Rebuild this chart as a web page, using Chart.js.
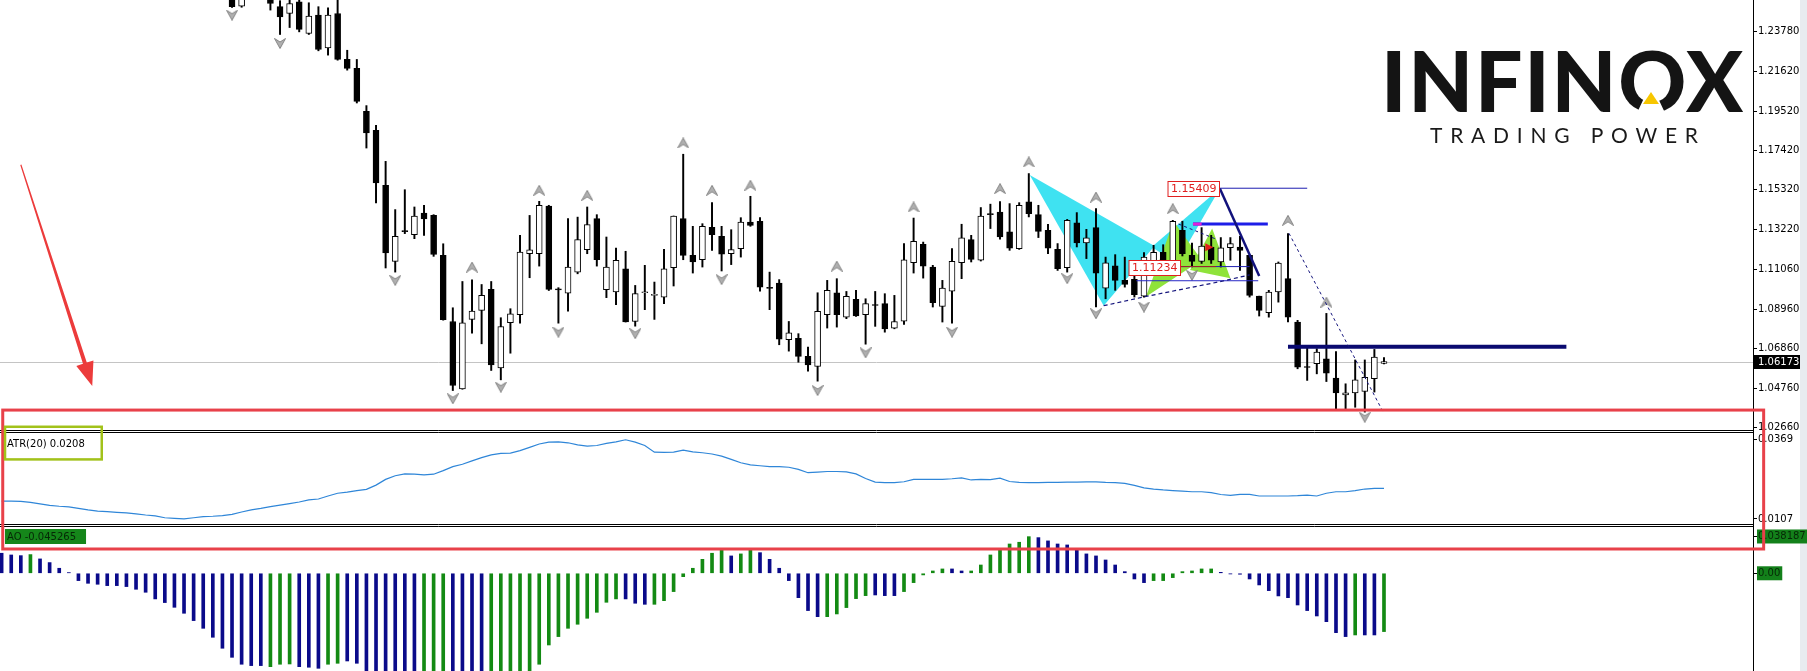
<!DOCTYPE html>
<html>
<head>
<meta charset="utf-8">
<title>EURUSD H4 - ATR / AO</title>
<script src="https://cdn.jsdelivr.net/npm/chart.js@4.4.1/dist/chart.umd.min.js"></script>
<style>
  html, body { margin: 0; padding: 0; background: #fff; }
  #wrap { position: relative; width: 1807px; height: 671px; overflow: hidden; background: #fff; }
  #chart { position: absolute; left: 0; top: 0; }
  .strip { position: absolute; right: 0; top: 0; width: 7px; height: 671px; background: #e8ebef; }
  .brand { position: absolute; left: 1381px; top: 38px; font-family: Lato, sans-serif; font-weight: 900;
           font-size: 84px; line-height: 84px; color: #141414; white-space: nowrap; }
  .brand .o { position: relative; }
  .tag { position: absolute; left: 1430px; top: 124px; font-family: Lato, sans-serif; font-weight: 400;
         font-size: 21px; line-height: 21px; color: #1a1a1a; white-space: nowrap; }
  .notch { position: absolute; width: 0; height: 0; border-left: 14px solid transparent;
           border-right: 14px solid transparent; border-bottom: 30px solid #fff; }
  .tri { position: absolute; width: 0; height: 0; border-left: 8px solid transparent;
         border-right: 8px solid transparent; border-bottom: 12px solid #f7c600; }
</style>
</head>
<body>
<div id="wrap">
  <div class="strip"></div>
  <canvas id="chart" width="1807" height="671"></canvas>
  <div class="brand" id="brand">INFIN<span class="o" id="brandO">O</span>X</div>
  <div class="tag" id="tag">TRADING POWER</div>
  <div class="notch" id="notch"></div>
  <div class="tri" id="tri"></div>
</div>
<script>
// ---- data ----
// bars 0..23 are above the visible price range, first drawn candle is bar 24
const firstBar = 24;

const opens = [
  1.2600, 1.2511, 1.2580, 1.2620, 1.2580, 1.2508, 1.2472, 1.2534, 1.2365, 1.2463,
  1.2289, 1.2472, 1.2227, 1.2179, 1.1951, 1.1850, 1.1556, 1.1151, 1.1313, 1.1293,
  1.1409, 1.1396, 1.1183, 1.0831, 1.0472, 1.0842, 1.0890, 1.1002, 1.0584, 1.0824,
  1.0867, 1.1192, 1.1192, 1.1446, 1.1001, 1.0982, 1.1094, 1.1213, 1.1379, 1.1000,
  1.0988, 1.1112, 1.0831, 1.0984, 1.0970, 1.0961, 1.1118, 1.1379, 1.1183, 1.1160,
  1.1333, 1.1285, 1.1192, 1.1219, 1.1361, 1.1365, 1.1009, 1.1036, 1.0734, 1.0741,
  1.0645, 1.0591, 1.0867, 1.0984, 1.0854, 1.0949, 1.0867, 1.0918, 1.0926, 1.0796,
  1.0833, 1.1144, 1.1242, 1.1121, 1.0911, 1.0993, 1.1144, 1.1267, 1.1157, 1.1402,
  1.1414, 1.1308, 1.1219, 1.1468, 1.1400, 1.1317, 1.1215, 1.1117, 1.1356, 1.1249,
  1.1331, 1.1009, 1.1128, 1.1050, 1.1056, 1.0966, 1.1120, 1.1200, 1.1121, 1.1317,
  1.1183, 1.1151, 1.1228, 1.1148, 1.1224, 1.1228, 1.1183, 1.0966, 1.0878, 1.0988,
  1.1059, 1.0828, 1.0590, 1.0606, 1.0632, 1.0529, 1.0440, 1.0451, 1.0458, 1.0526, 1.0607
];
const highs = [
  1.2630, 1.2600, 1.2650, 1.2660, 1.2600, 1.2540, 1.2545, 1.2560, 1.2529, 1.2508,
  1.2502, 1.2560, 1.2276, 1.2227, 1.1981, 1.1876, 1.1684, 1.1427, 1.1533, 1.1441,
  1.1450, 1.1400, 1.1245, 1.0904, 1.1044, 1.1053, 1.1028, 1.1044, 1.0851, 1.0899,
  1.1290, 1.1396, 1.1471, 1.1450, 1.1011, 1.1379, 1.1387, 1.1441, 1.1400, 1.1281,
  1.1222, 1.1205, 1.1023, 1.1130, 1.1041, 1.1215, 1.1393, 1.1722, 1.1338, 1.1352,
  1.1464, 1.1338, 1.1320, 1.1384, 1.1498, 1.1384, 1.1094, 1.1054, 1.0831, 1.0766,
  1.0694, 1.0984, 1.1050, 1.1059, 1.0991, 1.0997, 1.0952, 1.0991, 1.0979, 1.0970,
  1.1246, 1.1382, 1.1254, 1.1130, 1.1050, 1.1219, 1.1349, 1.1290, 1.1438, 1.1456,
  1.1470, 1.1459, 1.1464, 1.1619, 1.1450, 1.1349, 1.1246, 1.1375, 1.1411, 1.1322,
  1.1432, 1.1174, 1.1187, 1.1174, 1.1121, 1.1198, 1.1237, 1.1240, 1.1370, 1.1365,
  1.1249, 1.1331, 1.1290, 1.1278, 1.1278, 1.1285, 1.1183, 1.0966, 1.0997, 1.1148,
  1.1299, 1.0837, 1.0694, 1.0686, 1.0874, 1.0671, 1.0499, 1.0626, 1.0626, 1.0682, 1.0638
];
const lows = [
  1.2504, 1.2505, 1.2560, 1.2570, 1.2490, 1.2360, 1.2397, 1.2374, 1.2360, 1.2273,
  1.2250, 1.2223, 1.2170, 1.1995, 1.1755, 1.1462, 1.1116, 1.1094, 1.1299, 1.1272,
  1.1290, 1.1178, 1.0838, 1.0463, 1.0470, 1.0769, 1.0712, 1.0570, 1.0520, 1.0662,
  1.0822, 1.1064, 1.1126, 1.0996, 1.0822, 1.0886, 1.1085, 1.1192, 1.1126, 1.0958,
  1.0920, 1.0828, 1.0806, 1.0894, 1.0842, 1.0926, 1.1020, 1.1160, 1.1089, 1.1121,
  1.1210, 1.1100, 1.1134, 1.1174, 1.1338, 1.0993, 1.0894, 1.0707, 1.0673, 1.0614,
  1.0566, 1.0513, 1.0796, 1.0801, 1.0846, 1.0858, 1.0710, 1.0805, 1.0774, 1.0792,
  1.0815, 1.1089, 1.1062, 1.0908, 1.0828, 1.0822, 1.1059, 1.1148, 1.1153, 1.1326,
  1.1270, 1.1210, 1.1215, 1.1388, 1.1278, 1.1192, 1.1103, 1.1094, 1.1228, 1.1166,
  1.0908, 1.0952, 1.0997, 1.1014, 1.0961, 1.0961, 1.1090, 1.1110, 1.1110, 1.1180,
  1.1121, 1.1140, 1.1140, 1.1121, 1.1157, 1.1103, 1.0961, 1.0860, 1.0854, 1.0934,
  1.0828, 1.0579, 1.0517, 1.0552, 1.0511, 1.0357, 1.0357, 1.0374, 1.0348, 1.0455, 1.0605
];
const closes = [
  1.2508, 1.2570, 1.2620, 1.2590, 1.2525, 1.2454, 1.2525, 1.2387, 1.2458, 1.2280,
  1.2463, 1.2227, 1.2179, 1.2004, 1.1835, 1.1569, 1.1196, 1.1284, 1.1310, 1.1393,
  1.1377, 1.1188, 1.0840, 1.0490, 1.0824, 1.0886, 1.0970, 1.0600, 1.0804, 1.0872,
  1.1201, 1.1213, 1.1450, 1.1002, 1.0999, 1.1121, 1.1267, 1.1347, 1.1160, 1.1121,
  1.1157, 1.0828, 1.0979, 1.0986, 1.0972, 1.1112, 1.1393, 1.1183, 1.1148, 1.1338,
  1.1294, 1.1190, 1.1214, 1.1361, 1.1343, 1.1014, 1.1007, 1.0737, 1.0771, 1.0645,
  1.0600, 1.0885, 1.0997, 1.0867, 1.0965, 1.0860, 1.0926, 1.0916, 1.0792, 1.0831,
  1.1160, 1.1258, 1.1126, 1.0931, 1.1009, 1.1151, 1.1276, 1.1162, 1.1393, 1.1400,
  1.1281, 1.1222, 1.1450, 1.1406, 1.1311, 1.1222, 1.1112, 1.1370, 1.1249, 1.1276,
  1.1089, 1.1144, 1.1050, 1.1029, 1.0974, 1.1174, 1.1200, 1.1140, 1.1365, 1.1192,
  1.1151, 1.1233, 1.1157, 1.1224, 1.1246, 1.1210, 1.0970, 1.0890, 1.0988, 1.1142,
  1.0854, 1.0588, 1.0586, 1.0668, 1.0556, 1.0451, 1.0451, 1.0520, 1.0534, 1.0641, 1.06173
];
const lastPrice = 1.06173;

// fractal arrows: [bar, price]
const fractalsUp = [
  [49, 1.1121], [56, 1.1530], [61, 1.1503], [71, 1.1782], [74, 1.1530], [78, 1.1557],
  [87, 1.1126], [95, 1.1441], [104, 1.1539], [107, 1.1681], [114, 1.1494], [122, 1.1432],
  [134, 1.1370], [138, 1.0934]
];
const fractalsDown = [
  [24, 1.2463], [29, 1.2312], [41, 1.1050], [47, 1.0419], [52, 1.0481], [58, 1.0774],
  [66, 1.0766], [75, 1.1054], [85, 1.0463], [90, 1.0664], [99, 1.0774], [111, 1.1059],
  [114, 1.0872], [119, 1.0908], [124, 1.1077], [142, 1.0321]
];

// ATR(20), one value per bar 0..144
const atr = [
  0.0166, 0.0166, 0.0165, 0.0162, 0.0157, 0.0152, 0.0149, 0.0147, 0.0142, 0.0137,
  0.0133, 0.0131, 0.0129, 0.0127, 0.0124, 0.0120, 0.0117, 0.0111, 0.0109, 0.0107,
  0.0111, 0.0115, 0.0116, 0.0118, 0.0122, 0.0130, 0.0137, 0.0142, 0.0148, 0.0153,
  0.0158, 0.0163, 0.0170, 0.0173, 0.0183, 0.0192, 0.0196, 0.0201, 0.0205, 0.0219,
  0.0238, 0.0250, 0.0256, 0.0255, 0.0253, 0.0255, 0.0267, 0.0280, 0.0288, 0.0299,
  0.0310, 0.0319, 0.0324, 0.0325, 0.0333, 0.0344, 0.0355, 0.0361, 0.0362, 0.0359,
  0.0352, 0.0348, 0.0350, 0.0357, 0.0362, 0.0369, 0.0361, 0.0350, 0.0328, 0.0327,
  0.0328, 0.0335, 0.0329, 0.0326, 0.0322, 0.0315, 0.0304, 0.0293, 0.0286, 0.0283,
  0.0280, 0.0280, 0.0278, 0.0271, 0.0260, 0.0262, 0.0264, 0.0264, 0.0263, 0.0256,
  0.0241, 0.0229, 0.0227, 0.0227, 0.0230, 0.0238, 0.0238, 0.0238, 0.0238, 0.0240,
  0.0243, 0.0236, 0.0238, 0.0237, 0.0242, 0.0231, 0.0228, 0.0227, 0.0227, 0.0228,
  0.0228, 0.0229, 0.0229, 0.0230, 0.0230, 0.0228, 0.0227, 0.0225, 0.0218, 0.0210,
  0.0206, 0.0203, 0.0201, 0.0199, 0.0197, 0.0197, 0.0194, 0.0188, 0.0185, 0.0188,
  0.0188, 0.0183, 0.0183, 0.0183, 0.0183, 0.0184, 0.0186, 0.0183, 0.0192, 0.0197,
  0.0197, 0.0201, 0.0206, 0.0208, 0.0208
];

// Awesome Oscillator, one value per bar 0..144 (38..55 run below the window)
const ao = [
  0.0208, 0.0190, 0.0183, 0.0194, 0.0149, 0.0111, 0.0052, 0.0007, -0.0076, -0.0104,
  -0.0114, -0.0128, -0.0128, -0.0138, -0.0166, -0.0197, -0.0266, -0.0304, -0.0353, -0.0415,
  -0.0491, -0.0571, -0.0664, -0.0778, -0.0872, -0.0944, -0.0958, -0.0958, -0.0969, -0.0944,
  -0.0941, -0.0969, -0.0975, -0.0986, -0.0944, -0.0934, -0.0910, -0.0934, -0.1040, -0.1070,
  -0.1090, -0.1100, -0.1110, -0.1120, -0.1100, -0.1080, -0.1070, -0.1080, -0.1090, -0.1100,
  -0.1110, -0.1090, -0.1070, -0.1050, -0.1040, -0.1020, -0.0944, -0.0744, -0.0657, -0.0571,
  -0.0529, -0.0467, -0.0405, -0.0301, -0.0266, -0.0266, -0.0311, -0.0322, -0.0322, -0.0284,
  -0.0190, -0.0035, 0.0052, 0.0145, 0.0208, 0.0242, 0.0180, 0.0201, 0.0242, 0.0214,
  0.0145, 0.0052, -0.0076, -0.0253, -0.0387, -0.0450, -0.0450, -0.0422, -0.0356, -0.0263,
  -0.0232, -0.0225, -0.0232, -0.0232, -0.0190, -0.0097, -0.0017, 0.0024, 0.0045, 0.0045,
  0.0024, 0.0024, 0.0086, 0.0190, 0.0242, 0.0304, 0.0322, 0.0380, 0.0370, 0.0336,
  0.0304, 0.0294, 0.0249, 0.0201, 0.0180, 0.0138, 0.0086, 0.0017, -0.0059, -0.0097,
  -0.0076, -0.0076, -0.0045, 0.0017, 0.0024, 0.0045, 0.0045, 0.0010, -0.0007, -0.0010,
  -0.0059, -0.0121, -0.0180, -0.0235, -0.0253, -0.0329, -0.0387, -0.0443, -0.0502, -0.0616,
  -0.0657, -0.0640, -0.0640, -0.0640, -0.0605
];
// g = rising (green bar), b = falling (blue bar)
const aoTrend = ('bbbgbbbb' + 'bbbbbbbbbbbbbbbbbbbb' + 'gggbbbgg' + 'bbbbbbbb' + 'gggbbbb' +
  'gggggggggggggg' + 'bbb' + 'gggggggg' + 'bgg' + 'bbbbbbb' + 'gggggbbb' + 'gggggbb' +
  'ggggggg' + 'bbbbbbbbbbbb' + 'ggggggg' + 'bbbbbbbbbbbbbb' + 'gbbg').split('');

const priceTicks = [1.2378, 1.2162, 1.1952, 1.1742, 1.1532, 1.1322, 1.1106, 1.0896, 1.0686, 1.0476, 1.0266];
const atrTicks = [0.0369, 0.0107];
const aoTicks = [0.038187, 0];
const atrLast = 0.0208;
const aoLast = -0.045265;

// harmonic pattern drawn on the chart: triangles as [bar, price]
const cyanPattern = [
  [[107.1, 1.1611], [114.8, 1.0915], [120.1, 1.1233]],
  [[119.8, 1.1228], [126.9, 1.1540], [122.4, 1.1141]]
];
const greenPattern = [
  [[119.2, 1.0963], [122.1, 1.1363], [125.0, 1.1158]],
  [[123.8, 1.1105], [126.1, 1.1327], [128.0, 1.1061]]
];
const levelHigh = [[126.9, 1.15409], [136.0, 1.15409]];
const legCD = [[126.9, 1.1540], [131.0, 1.1073]];
const levelMid = [[124.1, 1.1350], [131.9, 1.1350]];
const levelLow = [[122.8, 1.11234], [130.0, 1.11234]];
const levelBase = [[118.2, 1.1048], [130.9, 1.1048]];
const resistance = [[134.0, 1.0697], [163.0, 1.0697]];
const dashedLows = [[114.8, 1.0915], [119.1, 1.0963], [126.9, 1.1043], [130.0, 1.1079]];
const dashedTop = [[122.6, 1.1350], [126.5, 1.1270]];
const dashedDrop = [[134.1, 1.1301], [143.9, 1.0350]];
const marker = [125.7, 1.1226];
// markup on the screenshot
const bigArrow = [[2.0, 1.1666], [9.44, 1.0487]];
const redBox = { left: 0.115, right: 183.55, top: 1.0359, bottom: 0.0252 };   // top on price axis, bottom on AO axis
const greenBox = { left: 0.354, right: 10.43, top: 1.0270, bottom: 0.0304 };  // top on price axis, bottom on ATR axis

// ---- drawing ----
const axisFont = { family: '"DejaVu Sans", sans-serif', size: 10 };
const AXIS_W = 54;

function arrowImg(up) {
  const c = document.createElement('canvas');
  c.width = 12; c.height = 11;
  const g = c.getContext('2d');
  g.beginPath();
  if (up) { g.moveTo(6, 0.5); g.lineTo(11.5, 10.5); g.lineTo(6, 7); g.lineTo(0.5, 10.5); }
  else { g.moveTo(6, 10.5); g.lineTo(11.5, 0.5); g.lineTo(6, 4); g.lineTo(0.5, 0.5); }
  g.closePath();
  g.fillStyle = '#b0b0b0'; g.fill();
  g.strokeStyle = '#858585'; g.lineWidth = 1; g.stroke();
  return c;
}

const overlay = {
  id: 'overlay',
  beforeDatasetsDraw(chart) {
    const { ctx, chartArea, scales } = chart;
    const X = v => scales.x.getPixelForValue(v);
    const Y = v => scales.y.getPixelForValue(v);
    ctx.save();
    const yb = Math.round(Y(lastPrice)) + 0.5;
    ctx.strokeStyle = '#c4c4c4'; ctx.lineWidth = 1;
    ctx.beginPath(); ctx.moveTo(chartArea.left, yb); ctx.lineTo(chartArea.right, yb); ctx.stroke();
    const poly = (pts, color) => {
      ctx.beginPath();
      pts.forEach(([i, p], k) => k ? ctx.lineTo(X(i), Y(p)) : ctx.moveTo(X(i), Y(p)));
      ctx.closePath();
      ctx.fillStyle = color; ctx.fill();
    };
    cyanPattern.forEach(t => poly(t, '#3fe2f1'));
    greenPattern.forEach(t => poly(t, '#8fe33a'));
    ctx.restore();
  },
  afterDatasetsDraw(chart) {
    const { ctx, chartArea, scales } = chart;
    const X = v => scales.x.getPixelForValue(v);
    const Y = v => scales.y.getPixelForValue(v);
    ctx.save();
    const line = (pts, color, w, dash) => {
      ctx.beginPath();
      pts.forEach(([i, p], k) => k ? ctx.lineTo(X(i), Y(p)) : ctx.moveTo(X(i), Y(p)));
      ctx.strokeStyle = color; ctx.lineWidth = w; ctx.setLineDash(dash || []);
      ctx.stroke();
    };
    line(levelBase, '#2626c6', 1);
    line(levelLow, '#2020b0', 1);
    line([levelLow[0], [126.5, 1.11234]], '#a02424', 1);
    line(levelHigh, '#1c1cb0', 1);
    line(levelMid, '#1d1de8', 3);
    line([levelMid[0], [125.0, 1.1350]], '#e020d8', 3);
    line(legCD, '#12127c', 2.5);
    line(resistance, '#0a0a70', 4);
    line(dashedLows, '#14147c', 1.2, [4, 3]);
    line(dashedTop, '#14147c', 1, [3, 3]);
    line(dashedDrop, '#14147c', 1, [3, 3]);
    ctx.setLineDash([]);

    // red marker arrow
    const mx = X(marker[0]), my = Y(marker[1]);
    ctx.fillStyle = '#e0201c';
    ctx.beginPath(); ctx.moveTo(mx + 5, my); ctx.lineTo(mx - 3, my - 4); ctx.lineTo(mx - 3, my + 4); ctx.closePath(); ctx.fill();

    // price tags of the pattern
    ctx.font = '11px "DejaVu Sans", sans-serif';
    ctx.textBaseline = 'middle';
    const tag = (txt, i, p) => {
      const w = ctx.measureText(txt).width + 6;
      const rx = Math.round(X(i)) + 0.5, ry = Math.round(Y(p)) + 0.5;
      ctx.fillStyle = '#fff'; ctx.fillRect(rx - w, ry - 7, w, 15);
      ctx.strokeStyle = '#e02020'; ctx.lineWidth = 1; ctx.strokeRect(rx - w, ry - 7, w, 15);
      ctx.fillStyle = '#e02020'; ctx.textAlign = 'left'; ctx.fillText(txt, rx - w + 3, ry + 1);
    };
    tag('1.15409', 126.8, 1.15409);
    tag('1.11234', 122.8, 1.11234);

    // pane separators (double lines)
    ctx.strokeStyle = '#000'; ctx.lineWidth = 1;
    [scales.yAtr.top, scales.yAo.top].forEach(t => {
      [Math.round(t) - 0.5, Math.round(t) + 1.5].forEach(yy => {
        ctx.beginPath(); ctx.moveTo(chartArea.left, yy); ctx.lineTo(chartArea.right, yy); ctx.stroke();
      });
    });

    // indicator titles
    ctx.font = '10px "DejaVu Sans", sans-serif';
    ctx.textAlign = 'left';
    ctx.fillStyle = '#000';
    ctx.fillText('ATR(20) ' + atrLast.toFixed(4), chartArea.left + 7, scales.yAtr.top + 13);
    const aoTxt = 'AO ' + aoLast.toFixed(6);
    const aw = ctx.measureText(aoTxt).width;
    ctx.fillStyle = '#15861a';
    ctx.fillRect(chartArea.left + 5, scales.yAo.top + 4, aw + 12, 15);
    ctx.fillStyle = '#062806';
    ctx.fillText(aoTxt, chartArea.left + 7, scales.yAo.top + 12);

    // current price tag on the axis
    const yp = Math.round(Y(lastPrice));
    ctx.fillStyle = '#000';
    ctx.fillRect(chartArea.right + 1, yp - 7, 46, 14);
    ctx.fillStyle = '#fff';
    ctx.fillText(lastPrice.toFixed(5), chartArea.right + 5, yp + 0.5);

    // screenshot markup: red arrow, red box, green box
    const ax0 = X(bigArrow[0][0]), ay0 = Y(bigArrow[0][1]);
    const ax1 = X(bigArrow[1][0]), ay1 = Y(bigArrow[1][1]);
    const ang = Math.atan2(ay1 - ay0, ax1 - ax0);
    const nx = -Math.sin(ang), ny = Math.cos(ang);
    const hx = ax1 - Math.cos(ang) * 24, hy = ay1 - Math.sin(ang) * 24;
    ctx.fillStyle = '#ec3b3b';
    ctx.beginPath();
    ctx.moveTo(ax0 - nx * 0.6, ay0 - ny * 0.6);
    ctx.lineTo(ax0 + nx * 0.6, ay0 + ny * 0.6);
    ctx.lineTo(hx + nx * 2, hy + ny * 2);
    ctx.lineTo(hx + nx * 9, hy + ny * 9);
    ctx.lineTo(ax1, ay1);
    ctx.lineTo(hx - nx * 9, hy - ny * 9);
    ctx.lineTo(hx - nx * 2, hy - ny * 2);
    ctx.closePath();
    ctx.fill();

    ctx.strokeStyle = '#e8414a'; ctx.lineWidth = 3;
    const rl = X(redBox.left), rr = X(redBox.right);
    const rt = Y(redBox.top), rb = scales.yAo.getPixelForValue(redBox.bottom);
    ctx.strokeRect(rl, rt, rr - rl, rb - rt);

    ctx.strokeStyle = '#a2c21a'; ctx.lineWidth = 2.5;
    const gl = X(greenBox.left), gr = X(greenBox.right);
    const gt = Y(greenBox.top), gb = scales.yAtr.getPixelForValue(greenBox.bottom);
    ctx.strokeRect(gl, gt, gr - gl, gb - gt);
    ctx.restore();
  }
};

function rightAxis(weight, min, max, ticks, fmt) {
  return {
    type: 'linear', position: 'right', stack: 'panes', stackWeight: weight,
    min: min, max: max,
    border: { display: true, color: '#000', width: 1 },
    grid: { drawOnChartArea: false, drawTicks: true, tickLength: 4, tickColor: '#000' },
    ticks: { color: '#000', font: axisFont, padding: 1, autoSkip: false, callback: fmt },
    afterBuildTicks: s => { s.ticks = ticks.map(v => ({ value: v })); },
    afterFit: s => {
      // fixed axis width, and no half-label padding so the panes fill the canvas height
      s.width = AXIS_W;
      s.paddingTop = 0;
      s.paddingBottom = 0;
    }
  };
}

const bodies = opens.map((o, k) => ({ x: firstBar + k, y: [o, closes[k]] }));
const wicks = lows.map((l, k) => ({ x: firstBar + k, y: [l, highs[k]] }));

const aoAxis = rightAxis(146, -0.1014, 0.0501, aoTicks, v => v === 0 ? '0.00' : Number(v).toFixed(6));
aoAxis.ticks.showLabelBackdrop = true;
aoAxis.ticks.backdropColor = '#13801a';
aoAxis.ticks.backdropPadding = { top: 1, bottom: 1, left: 1, right: 2 };
aoAxis.ticks.color = '#062806';

new Chart(document.getElementById('chart'), {
  data: {
    datasets: [
      {
        type: 'line', label: 'Fractals up', yAxisID: 'y', order: 0, showLine: false,
        data: fractalsUp.map(([i, p]) => ({ x: i, y: p })),
        pointStyle: arrowImg(true)
      },
      {
        type: 'line', label: 'Fractals down', yAxisID: 'y', order: 0, showLine: false,
        data: fractalsDown.map(([i, p]) => ({ x: i, y: p })),
        pointStyle: arrowImg(false)
      },
      {
        type: 'bar', label: 'Body', yAxisID: 'y', order: 1, grouped: false,
        data: bodies, barThickness: 6, minBarLength: 1,
        backgroundColor: c => closes[c.dataIndex] > opens[c.dataIndex] ? '#fff' : '#000',
        borderColor: '#000', borderWidth: 1, borderSkipped: false
      },
      {
        type: 'bar', label: 'Wick', yAxisID: 'y', order: 2, grouped: false,
        data: wicks, barThickness: 1.3, backgroundColor: '#000', borderWidth: 0
      },
      {
        type: 'line', label: 'ATR(20)', yAxisID: 'yAtr', order: 0,
        data: atr.map((v, i) => ({ x: i, y: v })),
        borderColor: '#2f86d8', borderWidth: 1.2, pointRadius: 0, tension: 0
      },
      {
        type: 'bar', label: 'AO', yAxisID: 'yAo', order: 0, grouped: false,
        data: ao.map((v, i) => ({ x: i, y: v })), barThickness: 3,
        backgroundColor: aoTrend.map(t => t === 'g' ? '#138a13' : '#0a0a8a'), borderWidth: 0
      }
    ]
  },
  options: {
    responsive: false,
    animation: false,
    layout: { padding: 0, autoPadding: false },
    plugins: { legend: { display: false }, tooltip: { enabled: false } },
    scales: {
      x: { type: 'linear', offset: false, min: -0.17, max: 182.44, display: false },
      y: rightAxis(431, 1.02475, 1.25437, priceTicks, v => Number(v).toFixed(5)),
      yAtr: rightAxis(94, 0.0087, 0.0398, atrTicks, v => Number(v).toFixed(4)),
      yAo: aoAxis
    }
  },
  plugins: [overlay]
});

// fit the logo wordmark to its box and cut the notch in the O
function fitLogo() {
  const brand = document.getElementById('brand');
  const tagEl = document.getElementById('tag');
  const wrap = document.getElementById('wrap').getBoundingClientRect();
  brand.style.letterSpacing = '0px';
  const w0 = brand.getBoundingClientRect().width;
  const ls = (362 - w0) / 6;
  brand.style.letterSpacing = ls + 'px';
  tagEl.style.letterSpacing = '0px';
  const t0 = tagEl.getBoundingClientRect().width;
  tagEl.style.letterSpacing = ((268 - t0) / 12) + 'px';
  const o = document.getElementById('brandO').getBoundingClientRect();
  const cx = o.left - wrap.left + (o.width - ls) / 2;
  const notch = document.getElementById('notch');
  const tri = document.getElementById('tri');
  notch.style.left = (cx - 14) + 'px';
  notch.style.top = '83px';
  tri.style.left = (cx - 8) + 'px';
  tri.style.top = '92px';
}
fitLogo();
</script>
</body>
</html>
